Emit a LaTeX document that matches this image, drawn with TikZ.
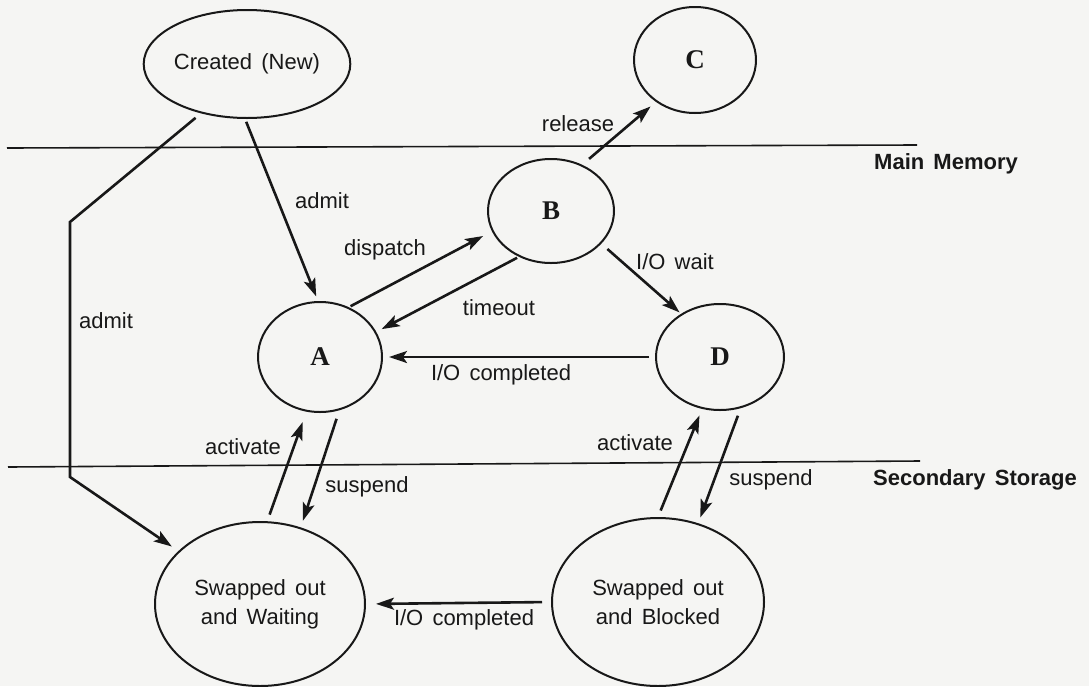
\documentclass[tikz,border=0pt]{standalone}
\usepackage{fontspec}
\setmainfont{Liberation Sans}[WordSpace={1.5,1,1}]
\newfontfamily\letterfont{Liberation Serif}
\usetikzlibrary{shapes.geometric,arrows.meta}
\definecolor{paper}{RGB}{245,245,243}
\definecolor{ink}{RGB}{24,24,24}
\begin{document}
\begin{tikzpicture}[x=1pt,y=-1pt,
  state/.style={ellipse, draw=ink, line width=2pt, inner sep=0pt, align=center,
    text=ink, font=\fontsize{22}{29}\selectfont},
  letter/.style={state, font=\letterfont\bfseries\fontsize{27}{27}\selectfont},
  arr/.style={draw=ink, line width=2.6pt, -{Stealth[length=18pt,width=12pt,inset=4pt]}},
  sep/.style={draw=ink, line width=1.6pt},
  lbl/.style={inner sep=0pt, text=ink, font=\fontsize{22}{26}\selectfont},
  region/.style={inner sep=0pt, text=ink, font=\bfseries\fontsize{22}{26}\selectfont}]
\useasboundingbox (0,0) rectangle (1089,686);
\fill[paper] (0,0) rectangle (1089,686);

% region separators
\coordinate (m1) at (7,148);
\coordinate (m2) at (917,145);
\coordinate (s1) at (8,467);
\coordinate (s2) at (920,461);
\draw[sep] (m1) -- (m2);
\draw[sep] (s1) -- (s2);
\node[region] (mm) at (946,164) {Main Memory};
\node[region] (ss) at (975,480) {Secondary Storage};

% states
\node[state, minimum width=190pt, minimum height=108pt] (created) at (247,64) {Created (New)};
\node[letter, minimum width=122pt, minimum height=106pt] (C) at (695,60) {C};
\node[letter, minimum width=126pt, minimum height=104pt] (B) at (551,211) {B};
\node[letter, minimum width=124pt, minimum height=110pt] (A) at (320,357) {A};
\node[letter, minimum width=128pt, minimum height=106pt] (D) at (720,357) {D};
\node[state, minimum width=210pt, minimum height=164pt] (swW) at (260,604) {Swapped out\\and Waiting};
\node[state, minimum width=212pt, minimum height=168pt] (swB) at (658,602) {Swapped out\\and Blocked};

% transitions
\draw[arr, shorten <=3pt, shorten >=5pt] (created.268) -- (A.92);
\node[lbl] (l1) at (322,201) {admit};

\coordinate (k1) at (70,222);
\coordinate (k2) at (70,477);
\draw[arr, shorten <=7pt, shorten >=8pt] (created.227) -- (k1) -- (k2) -- (swW.147);
\node[lbl] (l2) at (106,321) {admit};

\draw[arr, shorten <=2pt, shorten >=10pt] (A.60) -- (B.199);
\node[lbl] (l3) at (385,250) {dispatch};

\draw[arr, shorten <=2pt, shorten >=6pt] (B.235) -- (A.24);
\node[lbl] (l4) at (499,308) {timeout};

\draw[arr, shorten <=9pt, shorten >=7pt] (B.56) -- (C.227);
\node[lbl] (l5) at (578,124) {release};

\draw[arr, shorten <=8pt, shorten >=2pt] (B.-33) -- (D.132);
\node[lbl] (l6) at (675,262) {I/O wait};

\draw[arr, shorten <=6pt, shorten >=6pt] (D.west) -- (A.east);
\node[lbl] (l7) at (501,375) {I/O completed};

\draw[arr, shorten <=7pt, shorten >=11pt] (swW.85) -- (A.256);
\node[lbl] (l8) at (243,447) {activate};

\draw[arr, shorten <=9pt, shorten >=7pt] (A.-70) -- (swW.62);
\node[lbl] (l9) at (367,487) {suspend};

\draw[arr, shorten <=7pt, shorten >=7pt] (swB.90) -- (D.251);
\node[lbl] (l10) at (635,443) {activate};

\draw[arr, shorten <=8pt, shorten >=6pt] (D.-68) -- (swB.63);
\node[lbl] (l11) at (771,480) {suspend};

\draw[arr, shorten <=9pt, shorten >=10pt] (swB.west) -- (swW.east);
\node[lbl] (l12) at (464,620) {I/O completed};
\end{tikzpicture}
\end{document}
